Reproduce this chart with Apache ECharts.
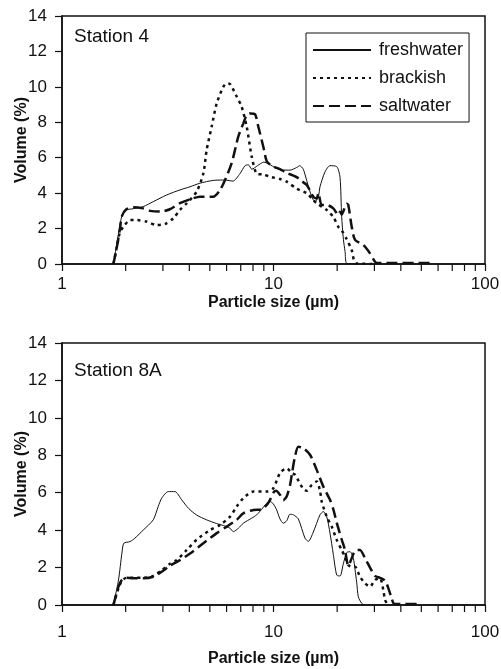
<!DOCTYPE html>
<html>
<head>
<meta charset="utf-8">
<script src="https://cdn.jsdelivr.net/npm/echarts@6/dist/echarts.min.js"></script>
<style>
  html, body { margin: 0; padding: 0; background: #fff; }
  #chart { width: 501px; height: 669px; }
</style>
</head>
<body>
<div id="chart"></div>
<script>
// particle size distributions, [size µm, volume %]
const seriesNames = ['freshwater', 'brackish', 'saltwater'];
const panelTitles = ['Station 4', 'Station 8A'];
const yTicks = [0, 2, 4, 6, 8, 10, 12, 14];
const minorTicks = [2, 3, 4, 5, 6, 7, 8, 9, 20, 30, 40, 50, 60, 70, 80, 90];

const st4Fresh = [
  [1.75, 0], [1.82, 1.2], [1.88, 2.2], [1.92, 2.7], [2.02, 3.05], [2.17, 3.12], [2.42, 3.24],
  [2.70, 3.52], [3.13, 3.9], [3.61, 4.18], [4.03, 4.36], [4.49, 4.56], [5.19, 4.72], [5.9, 4.74],
  [6.43, 4.68], [6.94, 5.1], [7.33, 5.55], [7.6, 5.6], [7.9, 5.35], [8.4, 5.55], [9.0, 5.75],
  [9.5, 5.65], [10.3, 5.4], [11.0, 5.3], [11.97, 5.3], [12.88, 5.45], [13.3, 5.55], [13.83, 5.35],
  [14.36, 4.7], [15.16, 3.8], [15.71, 3.52], [16.3, 3.8], [16.59, 4.36], [17.52, 5.2], [18.5, 5.55],
  [19.9, 5.5], [20.63, 4.9], [21.0, 2.7], [21.4, 1.4], [21.8, 0.7], [22.2, 0.04], [25, 0]
];
const st4Brack = [
  [1.75, 0], [1.82, 1.0], [1.88, 1.8], [1.95, 2.1], [2.1, 2.48], [2.26, 2.48], [2.52, 2.39],
  [2.8, 2.2], [3.07, 2.26], [3.36, 2.58], [3.61, 3.05], [3.89, 3.43], [4.33, 4.08], [4.66, 5.12],
  [4.83, 6.44], [5.1, 7.75], [5.39, 9.07], [5.79, 10.0], [6.0, 10.2], [6.23, 10.16], [6.7, 9.45],
  [7.07, 8.88], [7.47, 7.75], [7.89, 6.06], [8.33, 5.1], [8.95, 5.05], [9.8, 4.9], [10.73, 4.8],
  [11.54, 4.65], [12.88, 4.25], [14.36, 4.0], [15.43, 3.6], [16.0, 3.43], [17.85, 3.05],
  [18.5, 2.86], [19.18, 2.67], [20.25, 2.1], [21.0, 1.9], [22.2, 1.4], [23.4, 0.8], [24.5, 0.05], [30, 0]
];
const st4Salt = [
  [1.75, 0], [1.82, 1.0], [1.88, 2.0], [1.92, 2.7], [2.02, 3.1], [2.17, 3.2], [2.42, 3.14],
  [2.61, 3.0], [2.91, 2.96], [3.24, 3.09], [3.61, 3.43], [4.03, 3.65], [4.49, 3.8], [5.19, 3.8],
  [5.59, 4.18], [5.9, 4.74], [6.34, 5.69], [6.82, 7.2], [7.2, 7.94], [7.47, 8.4], [7.74, 8.5],
  [8.18, 8.45], [8.48, 7.75], [8.95, 6.62], [9.29, 5.8], [9.8, 5.55], [10.73, 5.35], [11.54, 5.15],
  [12.88, 4.9], [13.35, 4.74], [14.36, 4.46], [15.43, 3.8], [16.0, 3.7], [16.3, 4.0], [16.9, 3.33],
  [17.85, 3.33], [19.18, 3.14], [20.25, 2.77], [20.63, 2.95], [21.0, 2.8], [22.2, 3.4], [22.58, 3.33],
  [23.43, 2.1], [24.3, 1.36], [26.6, 1.07], [28.6, 0.6], [30.2, 0.13], [31, 0.05], [55, 0.05], [56, 0]
];

const st8Fresh = [
  [1.75, 0], [1.85, 1.34], [1.92, 2.77], [1.96, 3.3], [2.10, 3.39], [2.21, 3.57], [2.42, 4.0],
  [2.70, 4.55], [2.85, 5.26], [2.96, 5.71], [3.18, 6.06], [3.42, 6.06], [3.68, 5.62], [3.96, 5.17],
  [4.34, 4.8], [4.83, 4.55], [5.39, 4.35], [5.79, 4.25], [6.23, 4.1], [6.46, 3.92], [6.82, 4.1],
  [7.20, 4.37], [7.89, 4.64], [8.33, 4.82], [8.80, 5.12], [9.29, 5.44], [9.63, 5.53], [9.98, 5.4],
  [10.35, 5.08], [10.73, 4.6], [11.12, 4.37], [11.54, 4.5], [11.97, 4.85], [12.41, 4.82],
  [13.10, 4.6], [14.09, 3.57], [14.61, 3.4], [15.43, 3.9], [16.59, 4.82], [17.2, 4.99],
  [17.85, 4.72], [18.5, 3.84], [19.18, 2.7], [19.9, 1.6], [20.63, 1.55], [21.38, 2.2],
  [22.19, 2.8], [23.0, 2.85], [23.84, 2.5], [24.29, 1.9], [24.74, 1.2], [25.18, 0.44],
  [26.12, 0.09], [27.0, 0]
];
const st8Brack = [
  [1.75, 0], [1.85, 0.9], [1.92, 1.3], [2.02, 1.45], [2.17, 1.45], [2.42, 1.45], [2.70, 1.55],
  [2.96, 1.85], [3.24, 2.2], [3.49, 2.4], [3.89, 2.94], [4.34, 3.5], [5.01, 4.0], [5.59, 4.28],
  [6.23, 4.72], [6.70, 5.26], [7.20, 5.71], [8.03, 6.06], [9.29, 6.06], [9.98, 6.24], [10.73, 7.05],
  [11.54, 7.31], [12.19, 7.05], [12.64, 6.96], [13.83, 6.2], [14.36, 6.1], [15.16, 6.42],
  [16.01, 6.6], [16.59, 6.1], [16.9, 5.53], [17.85, 4.72], [18.85, 4.19], [19.9, 3.48],
  [21.01, 2.94], [21.78, 2.58], [22.58, 2.14], [23.43, 2.05], [24.29, 2.05], [25.64, 1.51],
  [27.08, 1.16], [28.6, 0.98], [30.19, 1.34], [31.88, 1.43], [33.05, 0.8], [33.67, 0.27], [34.79, 0]
];
const st8Salt = [
  [1.75, 0], [1.85, 0.98], [1.92, 1.34], [2.02, 1.46], [2.17, 1.43], [2.42, 1.43], [2.70, 1.51],
  [2.96, 1.78], [3.24, 2.1], [3.61, 2.4], [4.03, 2.75], [4.66, 3.3], [5.39, 3.84], [6.01, 4.19],
  [6.70, 4.55], [7.20, 4.9], [8.03, 5.08], [8.80, 5.12], [9.29, 5.35], [9.63, 5.62], [9.98, 6.0],
  [10.28, 6.1], [10.73, 5.89], [11.12, 5.6], [11.54, 5.8], [11.97, 6.4], [12.24, 7.05],
  [12.64, 7.94], [13.10, 8.45], [13.83, 8.38], [14.88, 8.03], [16.01, 7.22], [17.2, 6.33],
  [18.5, 5.62], [19.2, 5.1], [19.9, 4.4], [21.01, 3.5], [21.78, 2.94], [22.58, 2.1], [23.43, 2.5],
  [24.29, 2.9], [25.64, 2.94], [27.08, 2.5], [28.6, 2.0], [30.19, 1.55], [31.88, 1.45],
  [33.7, 1.3], [34.9, 0.9], [36.2, 0.35], [37.0, 0.08], [38, 0.05], [49, 0.05], [50, 0]
];

const panels = [
  [st4Fresh, st4Brack, st4Salt],
  [st8Fresh, st8Brack, st8Salt]
];

const FONT = '"Liberation Sans", Arial, sans-serif';
const lineStyles = [
  { color: '#111', width: 1, type: 'solid' },
  { color: '#111', width: 2.5, type: [3, 4] },
  { color: '#111', width: 2.5, type: [11, 5] }
];

const grids = [
  { left: 62, right: 16, top: 16, height: 248 },
  { left: 62, right: 16, top: 343, height: 262 }
];
const labelMargins = [12, 19];
const nameGaps = [31, 46];

const chart = echarts.init(document.getElementById('chart'));

const xAxes = grids.map((g, i) => ({
  type: 'log', logBase: 10, min: 1, max: 100, gridIndex: i,
  name: 'Particle size (µm)', nameLocation: 'middle', nameGap: nameGaps[i],
  nameMoveOverlap: false,
  nameTextStyle: { fontFamily: FONT, fontSize: 16, fontWeight: 'bold', color: '#111' },
  axisLine: { lineStyle: { color: '#111', width: 1.5 } },
  axisTick: { inside: false, length: 7, lineStyle: { color: '#111', width: 1.2 } },
  axisLabel: { fontFamily: FONT, fontSize: 17, color: '#111', margin: labelMargins[i] },
  splitLine: { show: false }
}));

const yAxes = grids.map((g, i) => ({
  type: 'value', min: 0, max: 14, interval: 2, gridIndex: i,
  name: 'Volume (%)', nameLocation: 'middle', nameGap: 32,
  nameMoveOverlap: false,
  nameTextStyle: { fontFamily: FONT, fontSize: 16, fontWeight: 'bold', color: '#111' },
  axisLine: { show: true, lineStyle: { color: '#111', width: 1.5 } },
  axisTick: { show: true, inside: false, length: 7, lineStyle: { color: '#111', width: 1.2 } },
  axisLabel: {
    fontFamily: FONT, fontSize: 17, color: '#111', margin: 15,
    formatter: v => yTicks.includes(v) ? String(v) : ''
  },
  splitLine: { show: false }
}));

const series = [];
panels.forEach((sets, p) => {
  sets.forEach((data, k) => {
    series.push({
      name: seriesNames[k], type: 'line', xAxisIndex: p, yAxisIndex: p,
      data: data, symbol: 'none', smooth: 0.25,
      lineStyle: lineStyles[k], itemStyle: { color: '#111' },
      emphasis: { disabled: true }, z: 3 + (2 - k)
    });
  });
  // minor log ticks under the x axis
  series.push({
    type: 'custom', xAxisIndex: p, yAxisIndex: p, silent: true, clip: false,
    data: minorTicks.map(v => [v, 0]),
    renderItem: (params, api) => {
      const pt = api.coord([api.value(0), 0]);
      return {
        type: 'line',
        shape: { x1: pt[0], y1: pt[1], x2: pt[0], y2: pt[1] + 7 },
        style: { stroke: '#111', lineWidth: 1.2 }
      };
    }
  });
});

chart.setOption({
  animation: false,
  backgroundColor: '#fff',
  title: panelTitles.map((t, i) => ({
    text: t, left: 74, top: i === 0 ? 27 : 361, padding: 0,
    textStyle: { fontFamily: FONT, fontSize: 19, fontWeight: 'normal', color: '#111' }
  })),
  legend: {
    data: seriesNames, orient: 'vertical', left: 306, top: 33,
    itemWidth: 58, itemHeight: 18, itemGap: 10,
    padding: [8, 6, 7, 6],
    borderColor: '#111', borderWidth: 1, borderRadius: 0,
    itemStyle: { opacity: 0 },
    textStyle: { fontFamily: FONT, fontSize: 18, color: '#111', padding: [0, 0, 0, 3] },
    selectedMode: false
  },
  grid: grids.map(g => Object.assign({
    show: true, borderColor: '#111', borderWidth: 1.5, backgroundColor: 'transparent',
    outerBoundsMode: 'none'
  }, g)),
  xAxis: xAxes,
  yAxis: yAxes,
  series: series
});
</script>
</body>
</html>
